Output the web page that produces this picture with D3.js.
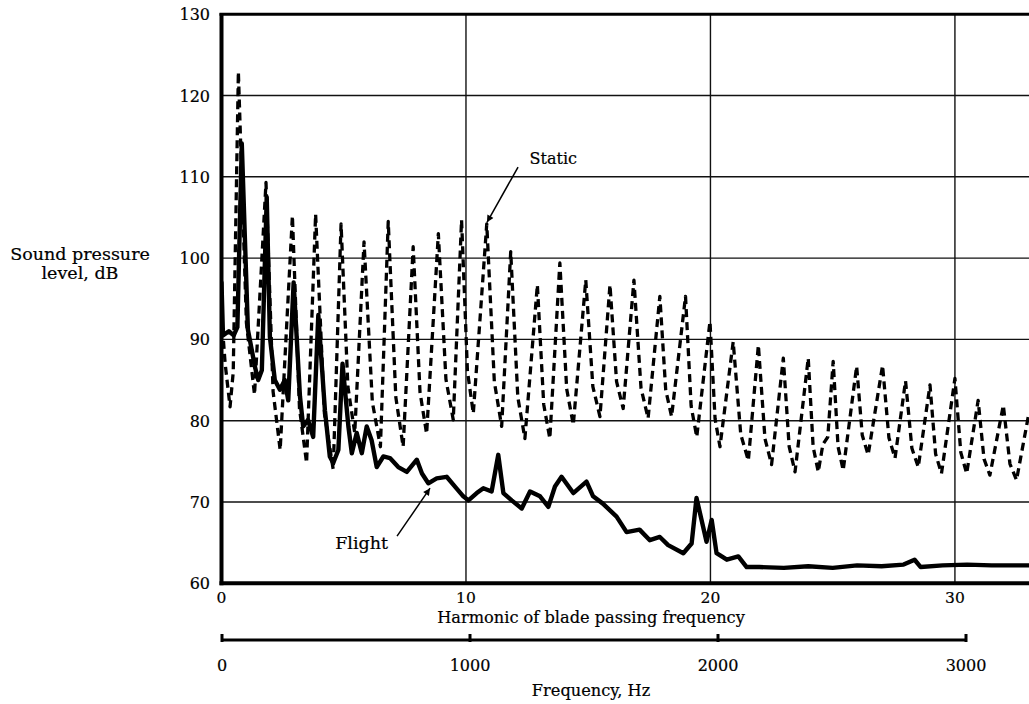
<!DOCTYPE html>
<html>
<head>
<meta charset="utf-8">
<script src="https://cdn.jsdelivr.net/npm/d3@7"></script>
<style>
  html, body { margin: 0; padding: 0; background: #fff; }
  svg { display: block; }
  text { font-family: "DejaVu Serif", "Liberation Serif", serif; fill: #000; stroke: #000; stroke-width: 0.2; }
</style>
</head>
<body>
<svg id="chart" width="1029" height="704"></svg>
<script>
// ---- data (harmonic, dB) ----
const staticHarmonic = [0, 0.15, 0.35, 0.48, 0.69, 1.02, 1.35, 1.82, 2.11, 2.4, 2.9, 3.19, 3.48, 3.85, 4.21, 4.57, 4.89, 5.17, 5.45, 5.83, 6.17, 6.5, 6.82, 7.13, 7.43, 7.84, 8.12, 8.39, 8.87, 9.18, 9.48, 9.82, 10.06, 10.3, 10.85, 11.16, 11.46, 11.83, 12.12, 12.41, 12.92, 13.18, 13.43, 13.84, 14.12, 14.39, 14.9, 15.19, 15.48, 15.89, 16.16, 16.43, 16.87, 17.16, 17.45, 17.93, 18.17, 18.41, 18.98, 19.21, 19.44, 19.98, 20.19, 20.39, 20.93, 21.24, 21.55, 21.96, 22.23, 22.5, 22.98, 23.22, 23.46, 24.0, 24.2, 24.41, 24.6, 24.8, 25.02, 25.22, 25.43, 25.98, 26.21, 26.45, 27.04, 27.3, 27.55, 27.98, 28.24, 28.5, 28.98, 29.21, 29.45, 30.0, 30.24, 30.48, 30.95, 31.19, 31.43, 31.98, 32.25, 32.52, 33.0];
const staticDB = [93, 87, 81.7, 86, 122.9, 92, 83.2, 109.3, 83.6, 76.4, 105.2, 81.5, 74.8, 105.4, 80.9, 74.0, 104.2, 84.2, 78.5, 102.0, 82.3, 76.8, 104.5, 82.9, 76.8, 101.4, 83.5, 78.4, 103.0, 85.1, 80.1, 104.7, 86.1, 80.9, 104.2, 84.8, 79.3, 100.8, 82.9, 77.8, 96.7, 82.0, 77.8, 99.4, 83.9, 79.5, 97.3, 84.2, 80.5, 96.7, 84.8, 81.5, 97.3, 84.0, 80.3, 95.3, 83.8, 80.5, 95.3, 81.8, 78.0, 92.2, 80.2, 76.8, 89.7, 78.3, 75.1, 89.3, 77.8, 74.6, 87.7, 76.8, 73.7, 87.7, 76.8, 73.7, 77.1, 78.0, 87.3, 76.8, 73.9, 86.7, 78.2, 75.8, 86.8, 77.9, 75.4, 84.9, 76.6, 74.3, 84.4, 75.9, 73.5, 85.2, 76.1, 73.5, 82.5, 75.3, 73.3, 81.9, 74.7, 72.7, 80.5];

const flightHarmonic = [0, 0.06, 0.3, 0.5, 0.65, 0.83, 1.08, 1.37, 1.5, 1.65, 1.85, 1.98, 2.18, 2.39, 2.59, 2.73, 2.95, 3.21, 3.34, 3.54, 3.75, 3.96, 4.23, 4.43, 4.57, 4.78, 4.95, 5.19, 5.33, 5.53, 5.74, 5.94, 6.14, 6.35, 6.62, 6.89, 7.23, 7.58, 7.99, 8.2, 8.46, 8.8, 9.21, 9.55, 9.89, 10.1, 10.44, 10.71, 11.05, 11.32, 11.53, 11.87, 12.28, 12.62, 13.03, 13.37, 13.64, 13.91, 14.39, 14.93, 15.2, 15.6, 16.16, 16.57, 17.1, 17.52, 17.93, 18.27, 18.89, 19.23, 19.43, 19.84, 20.05, 20.25, 20.67, 21.14, 21.48, 22.0, 23.0, 24.0, 25.0, 26.0, 27.0, 27.9, 28.35, 28.6, 29.5, 30.5, 31.5, 33.03];
const flightDB = [97, 90.5, 91, 90.5, 91.5, 114.1, 91.2, 86.6, 85.0, 86.2, 107.5, 90.3, 85.0, 83.8, 85.0, 82.5, 97.0, 83.0, 79.3, 80.1, 78.0, 93.0, 81.3, 75.6, 74.8, 76.4, 87.0, 79.3, 76.0, 78.5, 76.0, 79.3, 77.6, 74.3, 75.6, 75.4, 74.3, 73.7, 75.2, 73.5, 72.3, 72.9, 73.1, 71.9, 70.7, 70.2, 71.1, 71.7, 71.3, 75.8, 71.1, 70.2, 69.2, 71.3, 70.7, 69.4, 71.9, 73.1, 71.1, 72.5, 70.7, 69.8, 68.2, 66.3, 66.6, 65.3, 65.7, 64.7, 63.7, 64.9, 70.5, 65.1, 67.8, 63.7, 62.9, 63.3, 62.0, 62.0, 61.9, 62.1, 61.9, 62.2, 62.1, 62.3, 62.9, 62.0, 62.2, 62.3, 62.2, 62.2];

const yTicks = [60, 70, 80, 90, 100, 110, 120, 130];
const harmonicTicks = [0, 10, 20, 30];
const freqTicks = [0, 1000, 2000, 3000];

// ---- layout ----
const svg = d3.select("#chart");
const x = d3.scaleLinear().domain([0, 33.03]).range([221.5, 1029]);
const y = d3.scaleLinear().domain([60, 130]).range([583.3, 14.2]);
const xf = d3.scaleLinear().domain([0, 3000]).range([222, 966]);

const defs = svg.append("defs");
defs.append("clipPath").attr("id", "plotclip")
  .append("rect").attr("x", x(0)).attr("y", y(130)).attr("width", 1029 - x(0)).attr("height", y(60) - y(130));
defs.append("marker").attr("id", "arrow").attr("viewBox", "0 0 10 10")
  .attr("refX", 10).attr("refY", 5).attr("markerWidth", 11).attr("markerHeight", 7)
  .attr("markerUnits", "userSpaceOnUse").attr("orient", "auto")
  .append("path").attr("d", "M0,0 L10,5 L0,10 Z").attr("fill", "#000");

// gridlines
svg.append("g").selectAll("line").data(yTicks.filter(d => d > 60 && d < 130)).join("line")
  .attr("x1", x(0)).attr("x2", 1029).attr("y1", d => y(d)).attr("y2", d => y(d))
  .attr("stroke", "#111").attr("stroke-width", 1.4);
svg.append("g").selectAll("line").data(harmonicTicks.filter(d => d > 0)).join("line")
  .attr("x1", d => x(d)).attr("x2", d => x(d)).attr("y1", y(130)).attr("y2", y(60))
  .attr("stroke", "#111").attr("stroke-width", 1.4);

// frame: left, top, bottom
svg.append("line").attr("x1", x(0)).attr("x2", x(0)).attr("y1", y(130) - 1).attr("y2", y(60) + 2)
  .attr("stroke", "#000").attr("stroke-width", 4);
svg.append("line").attr("x1", x(0) - 2).attr("x2", 1029).attr("y1", y(130)).attr("y2", y(130))
  .attr("stroke", "#000").attr("stroke-width", 3);
svg.append("line").attr("x1", x(0) - 2).attr("x2", 1029).attr("y1", y(60)).attr("y2", y(60))
  .attr("stroke", "#000").attr("stroke-width", 4);

// y tick labels
svg.append("g").selectAll("text").data(yTicks).join("text")
  .attr("x", 210).attr("y", d => y(d) + 6)
  .attr("text-anchor", "end").attr("font-size", 16).text(d => d);

// harmonic tick labels
svg.append("g").selectAll("text").data(harmonicTicks).join("text")
  .attr("x", d => x(d)).attr("y", 603)
  .attr("text-anchor", "middle").attr("font-size", 15.5).text(d => d);
svg.append("text").attr("x", 591).attr("y", 623).attr("text-anchor", "middle")
  .attr("font-size", 16.2).text("Harmonic of blade passing frequency");

// frequency axis
svg.append("line").attr("x1", xf(0)).attr("x2", xf(3000)).attr("y1", 640).attr("y2", 640)
  .attr("stroke", "#000").attr("stroke-width", 3);
svg.append("g").selectAll("line").data(freqTicks).join("line")
  .attr("x1", d => xf(d)).attr("x2", d => xf(d)).attr("y1", 634).attr("y2", 642)
  .attr("stroke", "#000").attr("stroke-width", 3);
svg.append("g").selectAll("text").data(freqTicks).join("text")
  .attr("x", d => xf(d)).attr("y", 671)
  .attr("text-anchor", "middle").attr("font-size", 16).text(d => d);
svg.append("text").attr("x", 591).attr("y", 696).attr("text-anchor", "middle")
  .attr("font-size", 16.2).text("Frequency, Hz");

// y title
svg.append("text").attr("x", 80).attr("y", 260).attr("text-anchor", "middle")
  .attr("font-size", 17.5).text("Sound pressure");
svg.append("text").attr("x", 80).attr("y", 279).attr("text-anchor", "middle")
  .attr("font-size", 17.5).text("level, dB");

// series
const line = d3.line().x(d => x(d[0])).y(d => y(d[1])).curve(d3.curveLinear);
const staticData = staticHarmonic.map((h, i) => [h, staticDB[i]]);
const flightData = flightHarmonic.map((h, i) => [h, flightDB[i]]);
const plot = svg.append("g").attr("clip-path", "url(#plotclip)");
plot.append("path").datum(staticData).attr("d", line)
  .attr("fill", "none").attr("stroke", "#000").attr("stroke-width", 3.3)
  .attr("stroke-dasharray", "8,5").attr("stroke-linejoin", "round");
plot.append("path").datum(flightData).attr("d", line)
  .attr("fill", "none").attr("stroke", "#000").attr("stroke-width", 4.4)
  .attr("stroke-linejoin", "round").attr("stroke-linecap", "round");

// annotations
svg.append("line").attr("x1", x(12.13)).attr("y1", y(111.2)).attr("x2", x(10.86)).attr("y2", y(104.4))
  .attr("stroke", "#000").attr("stroke-width", 1.5).attr("marker-end", "url(#arrow)");
svg.append("text").attr("x", x(12.6)).attr("y", y(111.6)).attr("font-size", 16).text("Static");
svg.append("line").attr("x1", x(7.18)).attr("y1", y(65.8)).attr("x2", x(8.53)).attr("y2", y(71.7))
  .attr("stroke", "#000").attr("stroke-width", 1.5).attr("marker-end", "url(#arrow)");
svg.append("text").attr("x", x(6.81)).attr("y", y(64.2)).attr("text-anchor", "end").attr("font-size", 17.5).text("Flight");
</script>
</body>
</html>
